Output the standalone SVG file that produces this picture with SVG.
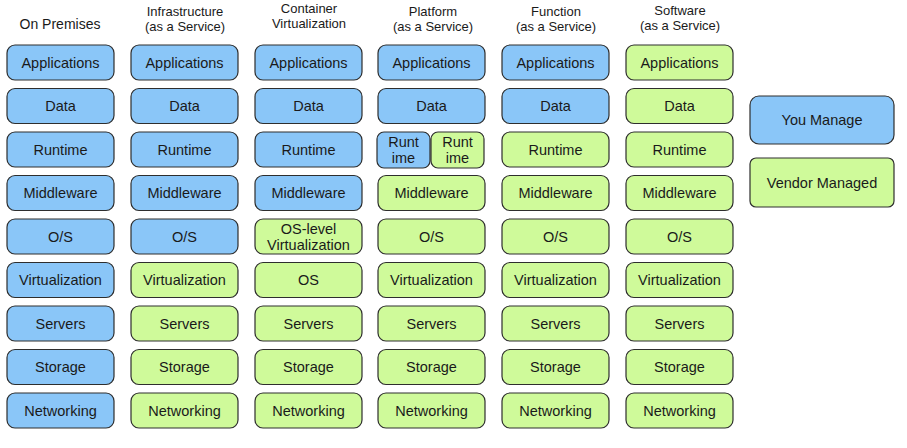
<svg xmlns="http://www.w3.org/2000/svg" width="907" height="448" viewBox="0 0 907 448">
<style>
.b{fill:#8ac6f8;stroke:#2e2e2e;stroke-width:1.2}
.g{fill:#cffa9a;stroke:#2e2e2e;stroke-width:1.2}
text{font-family:"Liberation Sans",Arial,sans-serif;font-size:14.5px;fill:#1a1a1a;text-anchor:middle}
.h{font-size:13px}
.t{font-size:14px}
</style>
<rect width="907" height="448" fill="#fff"/>
<g id="headers">
<text class="t" x="60" y="29">On Premises</text>
<text class="h" x="185" y="16">Infrastructure</text>
<text class="h" x="185" y="31">(as a Service)</text>
<text class="h" x="309" y="13">Container</text>
<text class="h" x="309" y="28">Virtualization</text>
<text class="h" x="433" y="16">Platform</text>
<text class="h" x="433" y="31">(as a Service)</text>
<text class="h" x="556" y="16">Function</text>
<text class="h" x="556" y="31">(as a Service)</text>
<text class="h" x="680" y="15">Software</text>
<text class="h" x="680" y="30">(as a Service)</text>
</g>
<g id="col1">
<g id="c1-apps"><rect class="b" x="7" y="45" width="107" height="35" rx="8"/><text x="60.5" y="67.5">Applications</text></g>
<g id="c1-data"><rect class="b" x="7" y="88.5" width="107" height="35" rx="8"/><text x="60.5" y="111">Data</text></g>
<g id="c1-runtime"><rect class="b" x="7" y="132" width="107" height="35" rx="8"/><text x="60.5" y="154.5">Runtime</text></g>
<g id="c1-mw"><rect class="b" x="7" y="175.5" width="107" height="35" rx="8"/><text x="60.5" y="198">Middleware</text></g>
<g id="c1-os"><rect class="b" x="7" y="219" width="107" height="35" rx="8"/><text x="60.5" y="241.5">O/S</text></g>
<g id="c1-virt"><rect class="b" x="7" y="262.5" width="107" height="35" rx="8"/><text x="60.5" y="285">Virtualization</text></g>
<g id="c1-servers"><rect class="b" x="7" y="306" width="107" height="35" rx="8"/><text x="60.5" y="328.5">Servers</text></g>
<g id="c1-storage"><rect class="b" x="7" y="349.5" width="107" height="35" rx="8"/><text x="60.5" y="372">Storage</text></g>
<g id="c1-net"><rect class="b" x="7" y="393" width="107" height="35" rx="8"/><text x="60.5" y="415.5">Networking</text></g>
</g>
<g id="col2">
<g id="c2-apps"><rect class="b" x="131" y="45" width="107" height="35" rx="8"/><text x="184.5" y="67.5">Applications</text></g>
<g id="c2-data"><rect class="b" x="131" y="88.5" width="107" height="35" rx="8"/><text x="184.5" y="111">Data</text></g>
<g id="c2-runtime"><rect class="b" x="131" y="132" width="107" height="35" rx="8"/><text x="184.5" y="154.5">Runtime</text></g>
<g id="c2-mw"><rect class="b" x="131" y="175.5" width="107" height="35" rx="8"/><text x="184.5" y="198">Middleware</text></g>
<g id="c2-os"><rect class="b" x="131" y="219" width="107" height="35" rx="8"/><text x="184.5" y="241.5">O/S</text></g>
<g id="c2-virt"><rect class="g" x="131" y="262.5" width="107" height="35" rx="8"/><text x="184.5" y="285">Virtualization</text></g>
<g id="c2-servers"><rect class="g" x="131" y="306" width="107" height="35" rx="8"/><text x="184.5" y="328.5">Servers</text></g>
<g id="c2-storage"><rect class="g" x="131" y="349.5" width="107" height="35" rx="8"/><text x="184.5" y="372">Storage</text></g>
<g id="c2-net"><rect class="g" x="131" y="393" width="107" height="35" rx="8"/><text x="184.5" y="415.5">Networking</text></g>
</g>
<g id="col3">
<g id="c3-apps"><rect class="b" x="255" y="45" width="107" height="35" rx="8"/><text x="308.5" y="67.5">Applications</text></g>
<g id="c3-data"><rect class="b" x="255" y="88.5" width="107" height="35" rx="8"/><text x="308.5" y="111">Data</text></g>
<g id="c3-runtime"><rect class="b" x="255" y="132" width="107" height="35" rx="8"/><text x="308.5" y="154.5">Runtime</text></g>
<g id="c3-mw"><rect class="b" x="255" y="175.5" width="107" height="35" rx="8"/><text x="308.5" y="198">Middleware</text></g>
<g id="c3-oslv"><rect class="g" x="255" y="219" width="107" height="35" rx="8"/><text x="308.5" y="234">OS-level</text><text x="308.5" y="250">Virtualization</text></g>
<g id="c3-os"><rect class="g" x="255" y="262.5" width="107" height="35" rx="8"/><text x="308.5" y="285">OS</text></g>
<g id="c3-servers"><rect class="g" x="255" y="306" width="107" height="35" rx="8"/><text x="308.5" y="328.5">Servers</text></g>
<g id="c3-storage"><rect class="g" x="255" y="349.5" width="107" height="35" rx="8"/><text x="308.5" y="372">Storage</text></g>
<g id="c3-net"><rect class="g" x="255" y="393" width="107" height="35" rx="8"/><text x="308.5" y="415.5">Networking</text></g>
</g>
<g id="col4">
<g id="c4-apps"><rect class="b" x="378" y="45" width="107" height="35" rx="8"/><text x="431.5" y="67.5">Applications</text></g>
<g id="c4-data"><rect class="b" x="378" y="88.5" width="107" height="35" rx="8"/><text x="431.5" y="111">Data</text></g>
<g id="c4-runtime-a"><rect class="b" x="377" y="132" width="53" height="36" rx="7"/><text x="403.5" y="147">Runt</text><text x="403.5" y="163">ime</text></g>
<g id="c4-runtime-b"><rect class="g" x="431" y="132" width="53" height="36" rx="7"/><text x="457.5" y="147">Runt</text><text x="457.5" y="163">ime</text></g>
<g id="c4-mw"><rect class="g" x="378" y="175.5" width="107" height="35" rx="8"/><text x="431.5" y="198">Middleware</text></g>
<g id="c4-os"><rect class="g" x="378" y="219" width="107" height="35" rx="8"/><text x="431.5" y="241.5">O/S</text></g>
<g id="c4-virt"><rect class="g" x="378" y="262.5" width="107" height="35" rx="8"/><text x="431.5" y="285">Virtualization</text></g>
<g id="c4-servers"><rect class="g" x="378" y="306" width="107" height="35" rx="8"/><text x="431.5" y="328.5">Servers</text></g>
<g id="c4-storage"><rect class="g" x="378" y="349.5" width="107" height="35" rx="8"/><text x="431.5" y="372">Storage</text></g>
<g id="c4-net"><rect class="g" x="378" y="393" width="107" height="35" rx="8"/><text x="431.5" y="415.5">Networking</text></g>
</g>
<g id="col5">
<g id="c5-apps"><rect class="b" x="502" y="45" width="107" height="35" rx="8"/><text x="555.5" y="67.5">Applications</text></g>
<g id="c5-data"><rect class="b" x="502" y="88.5" width="107" height="35" rx="8"/><text x="555.5" y="111">Data</text></g>
<g id="c5-runtime"><rect class="g" x="502" y="132" width="107" height="35" rx="8"/><text x="555.5" y="154.5">Runtime</text></g>
<g id="c5-mw"><rect class="g" x="502" y="175.5" width="107" height="35" rx="8"/><text x="555.5" y="198">Middleware</text></g>
<g id="c5-os"><rect class="g" x="502" y="219" width="107" height="35" rx="8"/><text x="555.5" y="241.5">O/S</text></g>
<g id="c5-virt"><rect class="g" x="502" y="262.5" width="107" height="35" rx="8"/><text x="555.5" y="285">Virtualization</text></g>
<g id="c5-servers"><rect class="g" x="502" y="306" width="107" height="35" rx="8"/><text x="555.5" y="328.5">Servers</text></g>
<g id="c5-storage"><rect class="g" x="502" y="349.5" width="107" height="35" rx="8"/><text x="555.5" y="372">Storage</text></g>
<g id="c5-net"><rect class="g" x="502" y="393" width="107" height="35" rx="8"/><text x="555.5" y="415.5">Networking</text></g>
</g>
<g id="col6">
<g id="c6-apps"><rect class="g" x="626" y="45" width="107" height="35" rx="8"/><text x="679.5" y="67.5">Applications</text></g>
<g id="c6-data"><rect class="g" x="626" y="88.5" width="107" height="35" rx="8"/><text x="679.5" y="111">Data</text></g>
<g id="c6-runtime"><rect class="g" x="626" y="132" width="107" height="35" rx="8"/><text x="679.5" y="154.5">Runtime</text></g>
<g id="c6-mw"><rect class="g" x="626" y="175.5" width="107" height="35" rx="8"/><text x="679.5" y="198">Middleware</text></g>
<g id="c6-os"><rect class="g" x="626" y="219" width="107" height="35" rx="8"/><text x="679.5" y="241.5">O/S</text></g>
<g id="c6-virt"><rect class="g" x="626" y="262.5" width="107" height="35" rx="8"/><text x="679.5" y="285">Virtualization</text></g>
<g id="c6-servers"><rect class="g" x="626" y="306" width="107" height="35" rx="8"/><text x="679.5" y="328.5">Servers</text></g>
<g id="c6-storage"><rect class="g" x="626" y="349.5" width="107" height="35" rx="8"/><text x="679.5" y="372">Storage</text></g>
<g id="c6-net"><rect class="g" x="626" y="393" width="107" height="35" rx="8"/><text x="679.5" y="415.5">Networking</text></g>
</g>
<g id="legend">
<g id="you-manage"><rect class="b" x="750" y="96" width="144" height="48" rx="9"/><text x="822" y="125">You Manage</text></g>
<g id="vendor-managed"><rect class="g" x="750" y="158" width="144" height="49" rx="6"/><text x="822" y="187.5">Vendor Managed</text></g>
</g>
<g id="connectors"/>
</svg>
